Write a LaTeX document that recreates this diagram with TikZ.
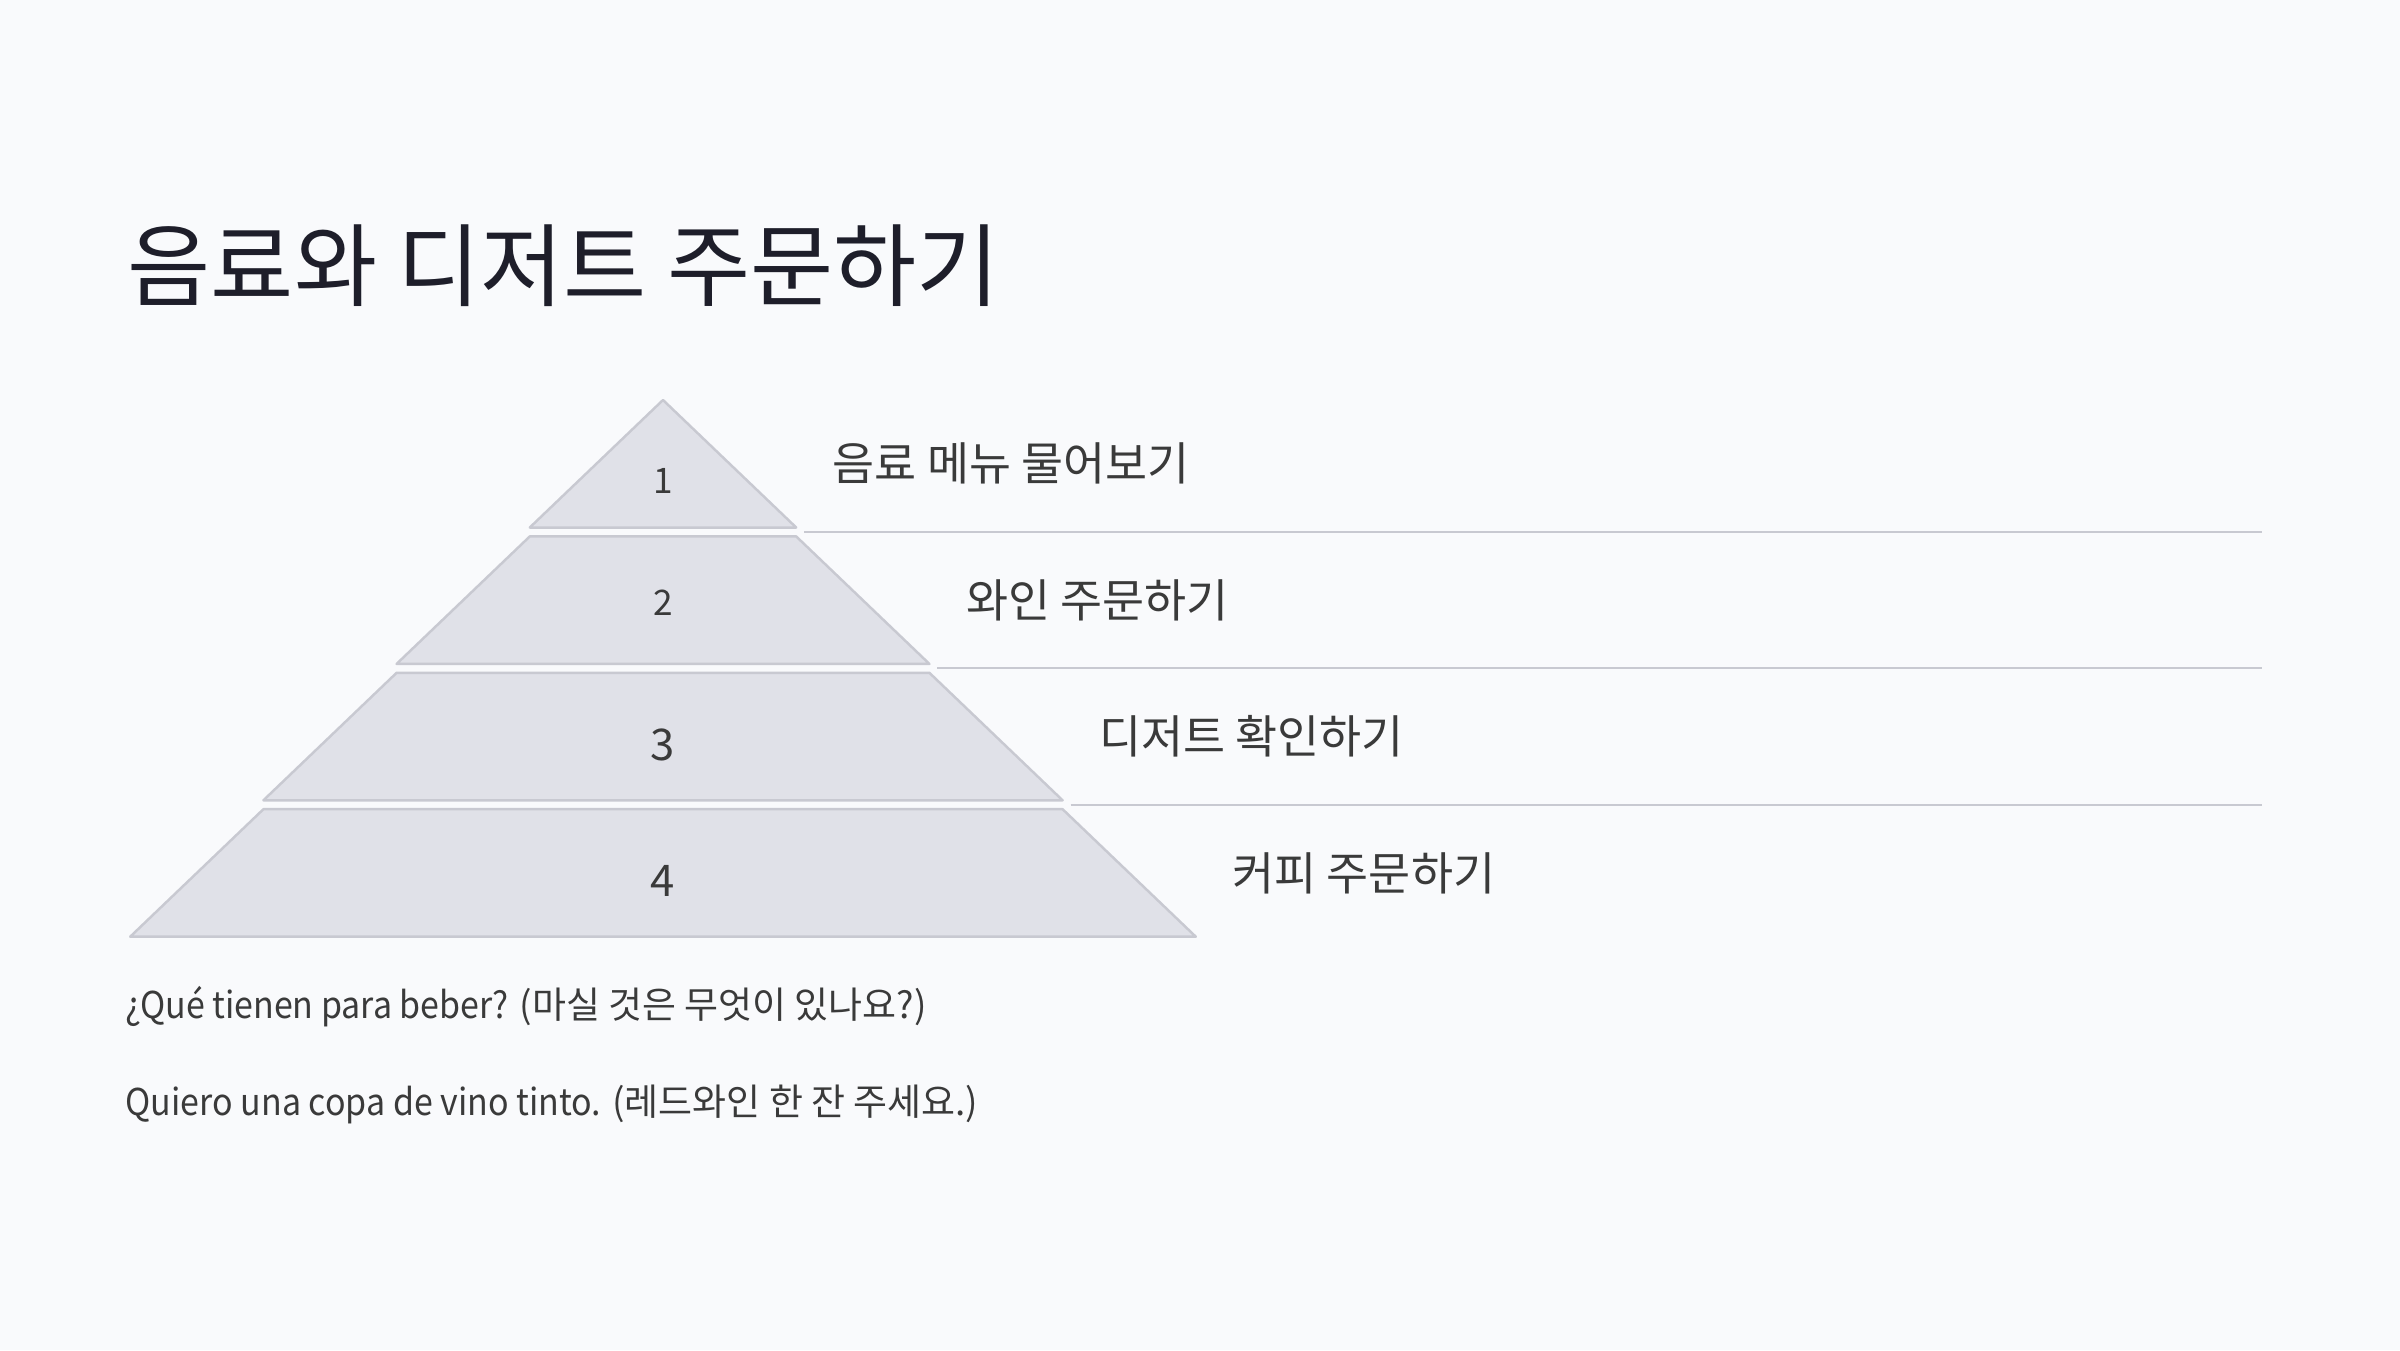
\documentclass[tikz,border=0pt]{standalone}
\usepackage{fontspec}
\setmainfont{Noto Sans CJK KR}
\newfontfamily\narrowlatin[FakeStretch=0.92]{Noto Sans CJK KR}
\usetikzlibrary{positioning}
\definecolor{pagebg}{HTML}{F9FAFC}
\definecolor{tierfill}{HTML}{E0E1E8}
\definecolor{tierline}{HTML}{C8C9D1}
\definecolor{titleink}{HTML}{1E1E2A}
\definecolor{bodyink}{HTML}{3A3A3A}

\begin{document}
\begin{tikzpicture}[x=0.01cm, y=-0.01cm, node distance=0.36cm]
	\tikzstyle{tier}
	  =[fill=tierfill, draw=tierline, line width=0.7pt, line join=round]
	\tikzstyle{rule}
	  =[draw=tierline, line width=0.6pt]
	\tikzstyle{tiernum}
	  =[text=bodyink, inner sep=0pt]
	\tikzstyle{tierlabel}
	  =[text=bodyink, inner sep=0pt, font=\fontsize{13}{15}\selectfont]
	\tikzstyle{phrase}
	  =[text=bodyink, inner sep=0pt, anchor=west, font=\fontsize{10.5}{13}\selectfont]

	\useasboundingbox[fill=pagebg] (0,0) rectangle (2400,1350);

	\node[text=titleink, inner sep=0pt, anchor=west, font=\fontsize{25.7}{30}\selectfont] (title)
	  at (127,266) {음료와 디저트 주문하기};

	% pyramid, one trapezium per step
	\foreach \i in {1,...,4} {
	  \pgfmathsetmacro{\ytop}{400+136.4*(\i-1)}
	  \pgfmathsetmacro{\ybot}{\ytop+127.5}
	  \pgfmathsetmacro{\wtop}{133.2*(\i-1)}
	  \pgfmathsetmacro{\wbot}{133.2*\i}
	  \draw[tier] (663-\wtop,\ytop) -- (663+\wtop,\ytop)
	    -- (663+\wbot,\ybot) -- (663-\wbot,\ybot) -- cycle;
	  \coordinate (rim\i) at (663+\wbot,\ytop+63.75);
	  \coordinate (rs\i) at (671+\wbot,\ybot+4.45);
	  \coordinate (re\i) at (2262,\ybot+4.45);
	}
	\foreach \i in {1,2,3}
	  \draw[rule] (rs\i) -- (re\i);

	\foreach \i/\ny/\fs in {1/481/10,2/603/10,3/744.5/12.4,4/881/12.4}
	  \node[tiernum, font=\fontsize{\fs}{\fs}\selectfont] (n\i) at (663,\ny) {\i};

	\node[tierlabel] (lab1) [right=of rim1] {음료 메뉴 물어보기};
	\node[tierlabel] (lab2) [right=of rim2] {와인 주문하기};
	\node[tierlabel] (lab3) [right=of rim3] {디저트 확인하기};
	\node[tierlabel] (lab4) [right=of rim4] {커피 주문하기};

	\node[phrase] (ask)
	  at (125,1007) {{\narrowlatin ¿Qué tienen para beber?} (마실 것은 무엇이 있나요?)};
	\node[phrase] (order)
	  at (125,1104) {{\narrowlatin Quiero una copa de vino tinto.} (레드와인 한 잔 주세요.)};
\end{tikzpicture}
\end{document}
